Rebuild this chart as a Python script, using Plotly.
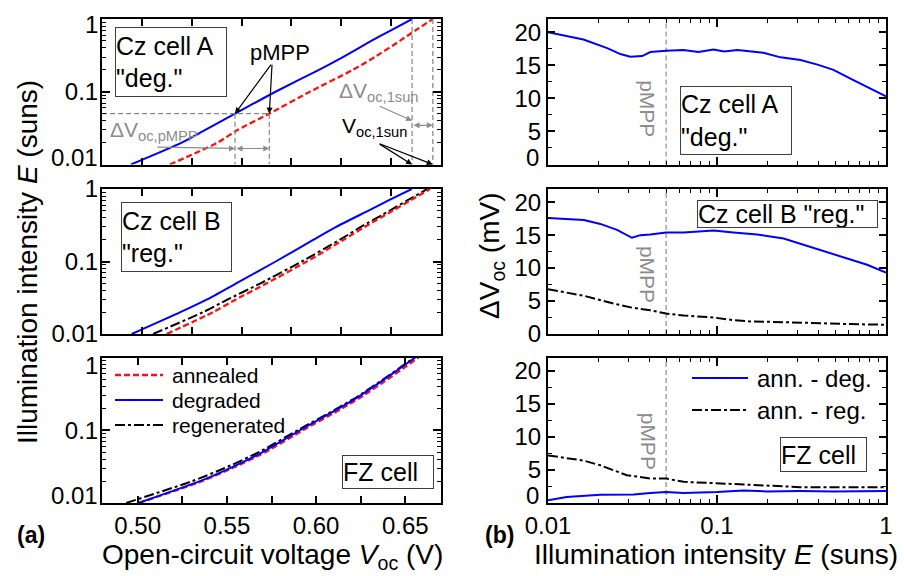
import math
import plotly.graph_objects as go

# ---------------- data ----------------
# Illumination grid for the Suns-Voc curves (suns)
E_grid = [0.01, 0.02, 0.03, 0.05, 0.1, 0.2, 0.3, 0.5, 0.7, 1.0]

# Cz cell A: open-circuit voltage (V)
voc_A_ann = [0.5140, 0.5380, 0.5481, 0.5639, 0.5842, 0.6058, 0.6168, 0.6293, 0.6373, 0.6459]
voc_A_deg = [0.4945, 0.5200, 0.5318, 0.5467, 0.5670, 0.5888, 0.6008, 0.6150, 0.6249, 0.6355]

# Cz cell B
voc_B_ann = [0.5124, 0.5357, 0.5472, 0.5626, 0.5827, 0.6012, 0.6117, 0.6257, 0.6348, 0.6445]
voc_B_deg = [0.4949, 0.5193, 0.5327, 0.5473, 0.5671, 0.5861, 0.5974, 0.6134, 0.6239, 0.6353]
voc_B_reg = [0.5056, 0.5307, 0.5431, 0.5595, 0.5802, 0.5993, 0.6098, 0.6241, 0.6333, 0.6431]

# FZ cell
voc_FZ_ann = [0.5007, 0.5361, 0.5528, 0.5716, 0.5926, 0.6146, 0.6266, 0.6400, 0.6485, 0.6574]
voc_FZ_deg = [0.5003, 0.5349, 0.5515, 0.5700, 0.5910, 0.6128, 0.6248, 0.6382, 0.6467, 0.6556]
voc_FZ_reg = [0.4935, 0.5306, 0.5485, 0.5679, 0.5896, 0.6119, 0.6241, 0.6376, 0.6461, 0.6550]

# Voc differences (mV) versus illumination (suns)
E_A_deg = [0.01, 0.0162, 0.0224, 0.0268, 0.0307, 0.0361, 0.0403, 0.05, 0.0632, 0.0776, 0.0953,
           0.110, 0.132, 0.188, 0.238, 0.312, 0.393, 0.489, 0.616, 0.775, 0.964, 1.0]
dV_A_deg = [20.0, 18.9, 17.6, 16.7, 16.3, 16.4, 17.0, 17.2, 17.3, 17.0, 17.4,
            17.1, 17.3, 16.9, 16.2, 15.8, 15.1, 14.3, 13.0, 11.7, 10.5, 10.3]

E_B_deg = [0.01, 0.0163, 0.0204, 0.0256, 0.0314, 0.0352, 0.0403, 0.05, 0.0635, 0.0955,
           0.125, 0.173, 0.248, 0.311, 0.391, 0.49, 0.615, 0.773, 1.0]
dV_B_deg = [17.6, 17.3, 16.7, 15.8, 14.6, 15.0, 15.1, 15.4, 15.4, 15.7,
            15.4, 15.1, 14.5, 13.7, 12.9, 12.2, 11.4, 10.5, 9.3]
E_B_reg = [0.01, 0.0163, 0.0256, 0.0314, 0.0403, 0.05, 0.0635, 0.0955, 0.125, 0.157,
           0.248, 0.391, 0.615, 1.0]
dV_B_reg = [6.8, 5.8, 4.5, 4.0, 3.6, 3.1, 2.8, 2.5, 2.1, 1.9, 1.8, 1.6, 1.5, 1.4]

E_FZ_deg = [0.01, 0.0129, 0.0204, 0.0321, 0.0403, 0.05, 0.0635, 0.1, 0.144, 0.198, 0.311, 0.49, 1.0]
dV_FZ_deg = [0.4, 0.9, 1.25, 1.3, 1.5, 1.65, 1.5, 1.65, 1.9, 1.75, 1.8, 1.75, 1.8]
E_FZ_reg = [0.01, 0.0163, 0.0204, 0.0293, 0.0336, 0.0403, 0.05, 0.0635, 0.0955, 0.137,
            0.198, 0.311, 0.49, 1.0]
dV_FZ_reg = [7.2, 6.4, 5.7, 4.2, 4.0, 3.7, 3.7, 3.2, 3.0, 2.8, 2.6, 2.4, 2.4, 2.4]

E_pmpp = 0.05

# axis ticks
voc_ticks = [0.50, 0.525, 0.55, 0.575, 0.60, 0.625, 0.65]
voc_ticktext = ["0.50", "", "0.55", "", "0.60", "", "0.65"]
E_ticks = [0.01, 0.1, 1]
E_ticktext = ["0.01", "0.1", "1"]
E_minor = [0.02, 0.03, 0.04, 0.05, 0.06, 0.07, 0.08, 0.09, 0.2, 0.3, 0.4, 0.5, 0.6, 0.7, 0.8, 0.9]
dV_ticks = [0, 5, 10, 15, 20]
dV_ticktext = ["0", "5", "10", "15", "20"]
dV_minor = [2.5, 7.5, 12.5, 17.5]

# ---------------- styling ----------------
W, H = 904, 576
FONT = "Arial, Liberation Sans, sans-serif"
GRAY = "#8c8c8c"
STY = {
    "ann": dict(color="#ff1010", width=2.3, dash="6px,3px"),
    "deg": dict(color="#0000ff", width=2, dash="solid"),
    "reg": dict(color="#000000", width=2, dash="10px,3px,3px,3px"),
}


def px(x):
    return x / W


def py(y):
    return 1 - y / H


fig = go.Figure()

# ---------------- left column: Suns-Voc ----------------
left_panels = [
    ("x", "y", [("deg", voc_A_deg), ("ann", voc_A_ann)]),
    ("x2", "y2", [("deg", voc_B_deg), ("reg", voc_B_reg), ("ann", voc_B_ann)]),
    ("x3", "y3", [("ann", voc_FZ_ann), ("reg", voc_FZ_reg), ("deg", voc_FZ_deg)]),
]
for xa, ya, curves in left_panels:
    for kind, voc in curves:
        fig.add_trace(go.Scatter(x=voc, y=E_grid, mode="lines", xaxis=xa, yaxis=ya,
                                 line=dict(shape="spline", smoothing=0.6, **STY[kind]),
                                 showlegend=False, hoverinfo="skip"))

# guide lines for the pMPP and 1-sun points of Cz cell A
ip = E_grid.index(E_pmpp)
guide = dict(color=GRAY, width=1.3, dash="5px,3px")
X_MIN_A = 0.48
E_MIN, E_MAX = 0.01, 1.0
guides = [
    ([X_MIN_A, voc_A_ann[ip]], [E_pmpp, E_pmpp]),
    ([voc_A_deg[ip]] * 2, [E_pmpp, E_MIN]),
    ([voc_A_ann[ip]] * 2, [E_pmpp, E_MIN]),
    ([voc_A_deg[-1]] * 2, [E_MAX, E_MIN]),
    ([voc_A_ann[-1]] * 2, [E_MAX, E_MIN]),
]
for gx, gy in guides:
    fig.add_trace(go.Scatter(x=gx, y=gy, mode="lines", xaxis="x", yaxis="y", line=guide,
                             showlegend=False, hoverinfo="skip"))

# ---------------- right column: delta Voc ----------------
right_panels = [
    ("x4", "y4", [("deg", E_A_deg, dV_A_deg)]),
    ("x5", "y5", [("deg", E_B_deg, dV_B_deg), ("reg", E_B_reg, dV_B_reg)]),
    ("x6", "y6", [("deg", E_FZ_deg, dV_FZ_deg), ("reg", E_FZ_reg, dV_FZ_reg)]),
]
for xa, ya, curves in right_panels:
    fig.add_trace(go.Scatter(x=[E_pmpp, E_pmpp], y=[0, 22], mode="lines", xaxis=xa, yaxis=ya,
                             line=dict(color=GRAY, width=1.2, dash="5px,3px"),
                             showlegend=False, hoverinfo="skip"))
    for kind, ex, dv in curves:
        fig.add_trace(go.Scatter(x=ex, y=dv, mode="lines", xaxis=xa, yaxis=ya,
                                 line=STY[kind], showlegend=False, hoverinfo="skip"))

# ---------------- axes ----------------
tickfont = dict(family=FONT, size=24, color="black")


def ax(**kw):
    d = dict(showline=True, linecolor="black", linewidth=2, mirror="ticks",
             ticks="inside", ticklen=7, tickwidth=1.5, tickcolor="black",
             showgrid=False, zeroline=False, automargin=False, tickfont=tickfont)
    d.update(kw)
    return d


LX = [px(102), px(441)]
RX = [px(548), px(886)]
Y_TOP = [py(164.5), py(19)]
Y_MID = [py(334), py(189)]
Y_BOT = [py(503), py(357.5)]

log_minor = dict(ticks="inside", ticklen=4, tickwidth=1.2, tickcolor="black",
                 tickmode="array", tickvals=E_minor, showgrid=False)
lin_minor = dict(ticks="inside", ticklen=4, tickwidth=1.2, tickcolor="black",
                 tickmode="array", tickvals=dV_minor, showgrid=False)


def blank(labels, hidden):
    return ["" if t in hidden else t for t in labels]


# end labels that sit nudged inward (drawn as annotations further down)
left_hidden = [{"0.01", "1"}, set(), {"0.01", "1"}]
right_hidden = [{"0"}, set(), {"0"}]

layout_axes = {}
for i, (ydom, xrange_, show) in enumerate([(Y_TOP, [0.48, 0.65], False),
                                           (Y_MID, [0.48, 0.65], False),
                                           (Y_BOT, [0.48, 0.67], True)]):
    n = "" if i == 0 else str(i + 1)
    layout_axes["xaxis" + n] = ax(domain=LX, range=xrange_, anchor="y" + n,
                                  tickmode="array", tickvals=voc_ticks, ticktext=voc_ticktext,
                                  showticklabels=show)
    layout_axes["yaxis" + n] = ax(domain=ydom, type="log", range=[-2, 0], anchor="x" + n,
                                  tickmode="array", tickvals=E_ticks,
                                  ticktext=blank(E_ticktext, left_hidden[i]),
                                  ticklabelstandoff=-3, ticklen=8, minor=log_minor)
for i, (ydom, show) in enumerate([(Y_TOP, False), (Y_MID, False), (Y_BOT, True)]):
    n = str(i + 4)
    layout_axes["xaxis" + n] = ax(domain=RX, type="log", range=[-2, 0], anchor="y" + n,
                                  tickmode="array", tickvals=E_ticks, ticktext=E_ticktext,
                                  ticklen=8, minor=log_minor, showticklabels=show)
    layout_axes["yaxis" + n] = ax(domain=ydom, range=[0, 22], anchor="x" + n,
                                  tickmode="array", tickvals=dV_ticks,
                                  ticktext=blank(dV_ticktext, right_hidden[i]),
                                  minor=lin_minor)

# ---------------- annotations ----------------
ann = []


def text(x, y, s, size=24, color="black", **kw):
    d = dict(x=x, y=y, xref="paper", yref="paper", text=s, showarrow=False,
             xanchor="center", yanchor="middle",
             font=dict(family=FONT, size=size, color=color))
    d.update(kw)
    ann.append(d)


def box(x0, y0, x1, y1, s, size=25):
    text(px((x0 + x1) / 2), py((y0 + y1) / 2), s, size=size, width=x1 - x0 - 2,
         height=y1 - y0 - 2, borderpad=0, bordercolor="#404040", borderwidth=1,
         align="left", valign="middle")


def end_label(yref, yval, label, x_right, shift):
    ann.append(dict(x=px(x_right), y=yval, xref="paper", yref=yref, text=label,
                    showarrow=False, xanchor="right", yanchor="middle", yshift=shift,
                    font=tickfont))


# nudged end-of-axis tick labels
lg = math.log10
end_label("y", lg(E_MAX), E_ticktext[2], 100, -5)
end_label("y", lg(E_MIN), E_ticktext[0], 100, 7)
end_label("y3", lg(E_MAX), E_ticktext[2], 100, -8)
end_label("y3", lg(E_MIN), E_ticktext[0], 100, 8)
end_label("y4", dV_ticks[0], dV_ticktext[0], 541, 7)
end_label("y6", dV_ticks[0], dV_ticktext[0], 541, 8)

# axis titles
text(px(27), py(262), "Illumination intensity <i>E</i> (suns)", size=28, textangle=-90)
text(px(492), py(255), "ΔV<sub>oc</sub> (mV)", size=28, textangle=-90)
text(px(272), py(556), "Open-circuit voltage <i>V</i><sub>oc</sub> (V)", size=28)
text(px(716), py(554), "Illumination intensity <i>E</i> (suns)", size=28)
text(px(31), py(535), "<b>(a)</b>", size=23)
text(px(499), py(535), "<b>(b)</b>", size=23)

# sample labels
box(115, 27, 227, 97, "Cz cell A<br>\"deg.\"")
box(121, 202, 232, 272, "Cz cell B<br>\"reg.\"")
box(342, 455, 434, 489, "FZ cell")
box(680, 86, 792, 155, "Cz cell A<br>\"deg.\"")
box(697, 200, 878, 228, "Cz cell B \"reg.\"")
box(780, 437, 867, 472, "FZ cell")

# pMPP markers in the right column
for ya, yv in [("y4", 8.5), ("y5", 9.1), ("y6", 9.4)]:
    ann.append(dict(x=lg(E_pmpp), y=yv, xref=ya.replace("y", "x"), yref=ya,
                    text="pMPP", textangle=90, showarrow=False, xshift=-18,
                    xanchor="center", yanchor="middle",
                    font=dict(family=FONT, size=21, color=GRAY)))

# Cz cell A: pMPP / 1-sun construction
text(px(280), py(53), "pMPP", size=22)
for v in (voc_A_deg[ip], voc_A_ann[ip]):
    ann.append(dict(x=v, y=lg(E_pmpp), xref="x", yref="y", text="", showarrow=True,
                    axref="x", ayref="y", ax=0.5653, ay=-0.607, arrowhead=2, arrowsize=1,
                    arrowwidth=1.2, arrowcolor="black", standoff=0))
text(px(108), py(131), "ΔV<sub>oc,pMPP</sub>", size=21, color=GRAY, xanchor="left")
E_arrow_p = 0.0166
ann.append(dict(x=voc_A_deg[ip], y=lg(E_arrow_p), xref="x", yref="y", text="", showarrow=True,
                axref="x", ayref="y", ax=0.5070, ay=lg(0.0174), arrowhead=2, arrowsize=1,
                arrowwidth=1.2, arrowcolor=GRAY, standoff=0))
ann.append(dict(x=voc_A_ann[ip], y=lg(E_arrow_p), xref="x", yref="y", text="", showarrow=True,
                axref="x", ayref="y", ax=voc_A_deg[ip], ay=lg(E_arrow_p), arrowhead=2,
                startarrowhead=2, arrowside="end+start", arrowsize=1, arrowwidth=1.2,
                arrowcolor=GRAY, standoff=0, startstandoff=0))

text(px(337), py(92), "ΔV<sub>oc,1sun</sub>", size=21, color=GRAY, xanchor="left")
E_arrow_1 = 0.0345
ann.append(dict(x=voc_A_deg[-1], y=lg(0.0400), xref="x", yref="y", text="", showarrow=True,
                axref="x", ayref="y", ax=0.6185, ay=lg(0.0646), arrowhead=2, arrowsize=1,
                arrowwidth=1.2, arrowcolor=GRAY, standoff=0))
ann.append(dict(x=voc_A_ann[-1], y=lg(E_arrow_1), xref="x", yref="y", text="", showarrow=True,
                axref="x", ayref="y", ax=voc_A_deg[-1], ay=lg(E_arrow_1), arrowhead=2,
                startarrowhead=2, arrowside="end+start", arrowsize=1, arrowwidth=1.2,
                arrowcolor=GRAY, standoff=0, startstandoff=0))

text(px(340), py(127), "V<sub>oc,1sun</sub>", size=21, xanchor="left")
for v in (voc_A_deg[-1], voc_A_ann[-1]):
    ann.append(dict(x=v, y=lg(E_MIN), xref="x", yref="y", text="", showarrow=True,
                    axref="x", ayref="y", ax=0.6185, ay=-1.707, arrowhead=2, arrowsize=1,
                    arrowwidth=1.2, arrowcolor="black", standoff=0))

# ---------------- legends ----------------
shapes = []


def legend_row(x0, x1, y, kind, label, size):
    s = STY[kind]
    shapes.append(dict(type="line", xref="paper", yref="paper", x0=px(x0), x1=px(x1),
                       y0=py(y), y1=py(y),
                       line=dict(color=s["color"], width=s["width"], dash=s["dash"])))
    text(px(x1 + 7), py(y), label, size=size, xanchor="left", yanchor="middle")


legend_row(115, 163, 375, "ann", "annealed", 21)
legend_row(115, 163, 400, "deg", "degraded", 21)
legend_row(115, 163, 425, "reg", "regenerated", 21)
legend_row(692, 748, 378, "deg", "ann. - deg.", 24)
legend_row(692, 748, 410, "reg", "ann. - reg.", 24)

fig.update_layout(template="none", width=W, height=H, margin=dict(l=0, r=0, t=0, b=0),
                  paper_bgcolor="white", plot_bgcolor="white", showlegend=False,
                  font=dict(family=FONT, color="black"),
                  annotations=ann, shapes=shapes, **layout_axes)

fig.write_html("out.html")
